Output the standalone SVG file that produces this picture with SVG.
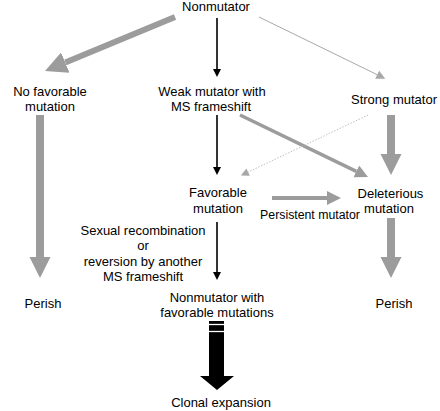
<svg xmlns="http://www.w3.org/2000/svg" width="440" height="411" viewBox="0 0 440 411">
<style>
text{font-family:"Liberation Sans",Arial,sans-serif;font-size:13px;fill:#000;text-anchor:middle}
.blk{stroke:#000;stroke-width:1.6;fill:none}
.gthick{stroke:#9c9c9c;stroke-width:8;fill:none}
.gdiag{stroke:#9c9c9c;stroke-width:6;fill:none}
.gmid{stroke:#9c9c9c;stroke-width:3.5;fill:none}
.ghor{stroke:#9c9c9c;stroke-width:4;fill:none}
.gthin{stroke:#a8a8a8;stroke-width:1;fill:none}
.gdot{stroke:#b8b8b8;stroke-width:0.9;stroke-dasharray:1.5 1.5;fill:none}
</style>
<defs>
<marker id="hb" markerUnits="userSpaceOnUse" viewBox="0 0 10 10" refX="0" refY="5" markerWidth="9" markerHeight="8" orient="auto"><path d="M0,0 L10,5 L0,10 z" fill="#000"/></marker>
<marker id="hgb" markerUnits="userSpaceOnUse" viewBox="0 0 10 10" refX="0" refY="5" markerWidth="21" markerHeight="22" orient="auto"><path d="M0,0 L10,5 L0,10 z" fill="#9c9c9c"/></marker>
<marker id="hgd" markerUnits="userSpaceOnUse" viewBox="0 0 10 10" refX="0" refY="5" markerWidth="22" markerHeight="22" orient="auto"><path d="M0,0 L10,5 L0,10 z" fill="#9c9c9c"/></marker>
<marker id="hgm" markerUnits="userSpaceOnUse" viewBox="0 0 10 10" refX="0" refY="5" markerWidth="13" markerHeight="15" orient="auto"><path d="M0,0 L10,5 L0,10 z" fill="#9c9c9c"/></marker>
<marker id="hgh" markerUnits="userSpaceOnUse" viewBox="0 0 10 10" refX="0" refY="5" markerWidth="16" markerHeight="14" orient="auto"><path d="M0,0 L10,5 L0,10 z" fill="#9c9c9c"/></marker>
<marker id="hgs" markerUnits="userSpaceOnUse" viewBox="0 0 10 10" refX="0" refY="5" markerWidth="12" markerHeight="9" orient="auto"><path d="M0,0 L10,5 L0,10 z" fill="#a8a8a8"/></marker>
<marker id="hgt" markerUnits="userSpaceOnUse" viewBox="0 0 10 10" refX="0" refY="5" markerWidth="9" markerHeight="8" orient="auto"><path d="M0,0 L10,5 L0,10 z" fill="#a8a8a8"/></marker>
</defs>
<g id="connectors">
<line class="blk" x1="217" y1="18" x2="217" y2="69" marker-end="url(#hb)"/>
<line class="gdiag" x1="175" y1="17" x2="65.3" y2="62.6" marker-end="url(#hgd)"/>
<line class="gthin" x1="259" y1="17" x2="377.2" y2="74.7" marker-end="url(#hgs)"/>
<line class="gthick" x1="40" y1="115" x2="40" y2="257" marker-end="url(#hgb)"/>
<line class="gthick" x1="391" y1="115" x2="391" y2="154" marker-end="url(#hgb)"/>
<line class="blk" x1="217" y1="115" x2="217" y2="167" marker-end="url(#hb)"/>
<line class="gmid" x1="240" y1="115" x2="356.3" y2="171.3" marker-end="url(#hgm)"/>
<line class="gdot" x1="368" y1="115" x2="248.1" y2="172.1" marker-end="url(#hgt)"/>
<line class="ghor" x1="272" y1="198" x2="327" y2="198" marker-end="url(#hgh)"/>
<line class="gthick" x1="391" y1="218" x2="391" y2="257" marker-end="url(#hgb)"/>
<line class="blk" x1="217" y1="222" x2="217" y2="272" marker-end="url(#hb)"/>
<path d="M209,321 H224 V376 H234 L217,390 L200,376 H209 Z" fill="#000"/>
<line x1="209" y1="324.5" x2="224" y2="324.5" stroke="#fff" stroke-width="1.3"/>
<line x1="209" y1="331.5" x2="224" y2="331.5" stroke="#fff" stroke-width="1.3"/>
</g>
<g id="n-nonmutator"><text x="216" y="11">Nonmutator</text></g>
<g id="n-nofav"><text x="50" y="96">No favorable</text><text x="50" y="111">mutation</text></g>
<g id="n-weak"><text x="212" y="96">Weak mutator with</text><text x="211" y="111">MS frameshift</text></g>
<g id="n-strong"><text x="394" y="104">Strong mutator</text></g>
<g id="n-fav"><text x="218" y="197">Favorable</text><text x="218" y="212.5">mutation</text></g>
<g id="n-del"><text x="390.5" y="197.5">Deleterious</text><text x="389" y="213">mutation</text></g>
<g id="l-persist"><text x="310" y="218.5" style="font-size:12.3px">Persistent mutator</text></g>
<g id="l-sexual"><text x="143" y="235">Sexual recombination</text><text x="143" y="250">or</text><text x="143" y="265.5">reversion by another</text><text x="143" y="281">MS frameshift</text></g>
<g id="n-perish1"><text x="43" y="308">Perish</text></g>
<g id="n-perish2"><text x="394" y="308">Perish</text></g>
<g id="n-nonmutfav"><text x="217" y="302">Nonmutator with</text><text x="217" y="317">favorable mutations</text></g>
<g id="n-clonal"><text x="221" y="407">Clonal expansion</text></g>
</svg>
